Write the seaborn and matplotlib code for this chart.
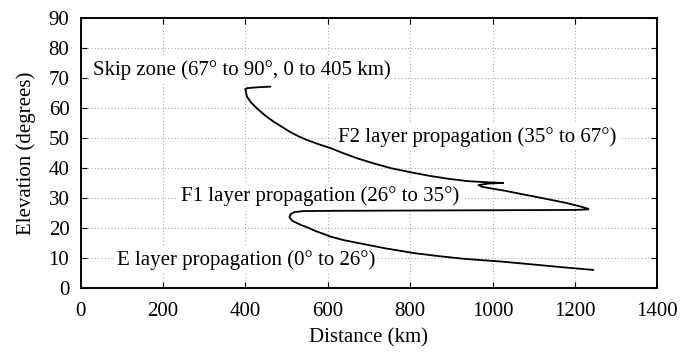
import matplotlib
matplotlib.use("Agg")
import matplotlib.pyplot as plt
import seaborn as sns
import pandas as pd

# Ray path: distance (km) vs elevation (degrees), in drawing order
distance_km = [461, 430, 405, 400, 404, 414, 428, 447, 469, 490, 510, 530, 550, 578, 607, 640,
               672, 712, 754, 811, 850, 892, 940, 990, 1026,
               990, 966, 975, 995, 1030, 1070, 1130, 1180, 1215, 1230, 1233,
               1200, 1000, 800, 600, 540, 520, 510, 507, 515, 535, 550, 570, 590, 607, 640,
               688, 740, 810, 870, 931, 980, 1021, 1060, 1100, 1170, 1245]
elevation_deg = [67.1, 66.9, 66.6, 66.3, 63.8, 61.8, 59.9, 57.6, 55.4, 53.6, 51.9, 50.5, 49.3, 47.9, 46.6, 44.8,
                 43.2, 41.5, 39.9, 38.3, 37.3, 36.4, 35.6, 35.2, 35.0,
                 34.8, 34.3, 33.7, 33.2, 32.4, 31.3, 29.7, 28.3, 27.1, 26.5, 26.2,
                 26.0, 25.9, 25.8, 25.7, 25.6, 25.3, 24.6, 23.5, 22.3, 21.0, 20.2, 19.0, 18.0, 17.1, 15.9,
                 14.6, 13.2, 11.6, 10.6, 9.7, 9.2, 8.8, 8.3, 7.8, 6.9, 6.0]

label_texts = ["Skip zone (67° to 90°, 0 to 405 km)",
               "F2 layer propagation (35° to 67°)",
               "F1 layer propagation (26° to 35°)",
               "E layer propagation (0° to 26°)"]
label_x = [30, 626, 244, 89]
label_y = [72.7, 50.3, 30.7, 9.3]

x_ticks = [0, 200, 400, 600, 800, 1000, 1200, 1400]
y_ticks = [0, 10, 20, 30, 40, 50, 60, 70, 80, 90]

FS = 15

sns.set_style("ticks")
plt.rcParams['font.family'] = ['Liberation Serif', 'DejaVu Serif']
plt.rcParams['text.color'] = 'black'
plt.rcParams['axes.labelcolor'] = 'black'
plt.rcParams['xtick.color'] = 'black'
plt.rcParams['ytick.color'] = 'black'

fig = plt.figure(figsize=(7.0, 3.52), dpi=100)
ax = fig.add_axes([0.115, 0.182, 0.824, 0.767])

df = pd.DataFrame({"Distance": distance_km, "Elevation": elevation_deg})
sns.lineplot(data=df, x="Distance", y="Elevation", sort=False, estimator=None,
             color="black", linewidth=1.3, ax=ax, zorder=5)

ax.set_xlim(0, 1400)
ax.set_ylim(0, 90)
ax.set_xticks(x_ticks)
ax.set_yticks(y_ticks)
ax.tick_params(axis="both", direction="in", top=True, right=True, length=4,
               width=0.8, labelsize=FS, labelcolor="black")
ax.tick_params(axis="x", pad=10)
ax.tick_params(axis="y", pad=8)
ax.grid(True, linestyle=(0, (1, 2)), color="#aaaaaa", linewidth=0.8)
ax.set_axisbelow(True)
for s in ax.spines.values():
    s.set_linewidth(1.4)
    s.set_color("black")
    s.set_zorder(6)

ax.set_xlabel("Distance (km)", fontsize=FS, labelpad=5)
ax.set_ylabel("Elevation (degrees)", fontsize=FS, labelpad=9)

for t, x, y in zip(label_texts, label_x, label_y):
    ax.text(x, y, t, fontsize=FS, ha="left", va="center", zorder=4, color="black",
            bbox=dict(facecolor="white", edgecolor="none", pad=2))

fig.savefig("out.png", dpi=100)
